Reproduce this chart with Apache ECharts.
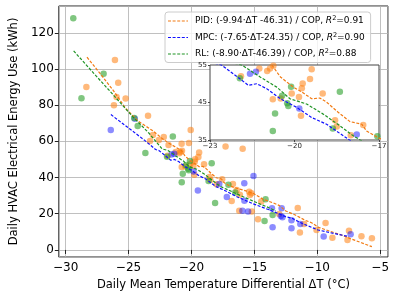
<!DOCTYPE html>
<html><head><meta charset="utf-8">
<script src="https://cdn.jsdelivr.net/npm/echarts@6/dist/echarts.min.js"></script>
<style>html,body{margin:0;padding:0;background:#fff}#c{width:397px;height:297px}</style>
</head><body><div id="c"></div>
<script>
// Scatter observations [ΔT, kWh]
const pidPoints = [[-28.35,90.1],[-26.08,105.0],[-25.82,92.4],[-25.95,84.5],[-25.23,83.7],[-26.16,80.0],[-23.45,74.1],[-23.06,63.5],[-23.29,60.2],[-22.2,62.4],[-22.59,60.8],[-21.82,58.0],[-20.78,58.7],[-20.2,59.1],[-20.06,66.3],[-21.9,52.0],[-21.25,54.1],[-20.97,53.4],[-20.87,54.1],[-20.75,54.8],[-19.39,53.9],[-19.45,51.3],[-19.71,50.1],[-19.74,48.8],[-20.1,47.4],[-19.84,46.5],[-20.77,45.9],[-20.49,46.1],[-19.77,41.5],[-19.0,47.4],[-18.56,40.3],[-18.5,38.6],[-18.0,36.3],[-17.56,39.0],[-17.29,57.1],[-15.93,55.9],[-16.7,36.4],[-16.4,33.1],[-16.15,30.5],[-15.41,32.2],[-15.23,31.3],[-15.35,30.4],[-16.8,27.0],[-14.45,26.7],[-16.2,21.6],[-15.2,21.2],[-14.71,17.0],[-13.03,19.9],[-11.55,23.2],[-11.05,14.4],[-11.38,9.7],[-10.06,11.0],[-9.34,14.9],[-8.8,6.8],[-7.48,10.6],[-7.6,5.5],[-6.49,7.5],[-5.66,6.5]];
const mpcPoints = [[-26.41,66.3],[-24.5,72.5],[-21.58,52.7],[-21.37,53.2],[-19.83,43.4],[-19.49,32.8],[-17.79,36.5],[-15.07,40.9],[-15.8,36.8],[-17.19,29.2],[-15.79,27.2],[-15.95,21.6],[-15.5,21.3],[-13.6,23.0],[-12.83,23.0],[-12.9,18.8],[-12.77,18.1],[-13.55,12.5],[-12.05,12.0],[-12.05,16.4],[-11.35,14.4],[-9.49,7.4],[-7.35,8.7]];
const rlPoints = [[-29.39,128.0],[-26.98,97.4],[-28.74,83.8],[-24.55,72.9],[-24.27,68.5],[-21.48,62.7],[-23.66,53.6],[-21.94,51.5],[-20.12,49.2],[-20.44,46.8],[-20.26,44.8],[-20.22,44.1],[-20.69,42.1],[-20.77,37.4],[-18.39,47.9],[-18.64,38.1],[-17.06,36.0],[-18.12,26.0],[-16.52,31.7],[-14.11,28.0],[-14.19,16.0],[-13.55,19.3]];
// Fitted model curves
const pidLine = [[-28.3,106.5],[-27.2,97],[-26.2,88],[-25.2,78],[-24.2,71],[-23.1,66],[-22.3,61.5],[-21.8,59],[-21.3,57],[-20.8,55],[-20.5,51.8],[-20.04,49.1],[-19.74,47.8],[-19.39,46],[-19.1,46.2],[-18.86,45.1],[-18.45,42.4],[-18.03,39.9],[-17.61,39.2],[-17.44,37.4],[-17.0,35.5],[-16.6,34.5],[-15.6,32.5],[-15.1,31.3],[-14.3,28],[-13.5,26],[-13.0,24.5],[-12.5,21.5],[-11.74,19.3],[-11.0,16.5],[-10.45,15],[-9.9,12.5],[-8.9,10.1],[-8.1,8.3],[-7.35,6.2],[-6.5,4],[-5.66,1.8]];
const mpcLine = [[-26.4,74.8],[-25,67.4],[-23.76,60.8],[-22.85,55.5],[-22.59,55],[-21.64,49.6],[-21.34,50],[-20.99,48.7],[-20.5,46],[-19.92,43.7],[-19.39,41],[-18.86,39.2],[-18.03,34.9],[-17.42,33.1],[-16.39,29.4],[-15.1,25.5],[-13.8,22.1],[-12.52,18.4],[-12,17.5],[-11.22,14.7],[-9.93,11],[-8.6,9],[-7.5,7.4]];
const rlLine = [[-29.36,110],[-27.76,97.6],[-26.2,85.6],[-24.66,73.6],[-23.37,64.5],[-22.33,55.8],[-21.87,55],[-21.22,51.8],[-20.63,49.1],[-20.16,46],[-19.57,44.6],[-18.98,41.9],[-18.39,38.8],[-17.91,36.1],[-17.67,35.0],[-16.4,31],[-15.1,27],[-13.8,23.2],[-13.3,21.5]];
const seriesNames = ['PID','MPC','RL'];
const legendFormulas = {PID:'PID: (-9.94·ΔT -46.31) / COP, ', MPC:'MPC: (-7.65·ΔT-24.35) / COP, ', RL:'RL: (-8.90·ΔT-46.39) / COP, '};
const legendR2 = {PID:'0.91', MPC:'0.90', RL:'0.88'};
const xAxisTitle = 'Daily Mean Temperature Differential ΔT (°C)';
const yAxisTitle = 'Daily HVAC Electrical Energy Use (kWh)';

const F = 'DejaVu Sans';
const pointColors = {PID:'#ff7f0e', MPC:'#0000ff', RL:'#2ca02c'};
const pointOpacity = {PID:0.55, MPC:0.45, RL:0.6};
const lineColors = {PID:'#f27a12', MPC:'#1010ff', RL:'#1f9424'};
const pts = {PID:pidPoints, MPC:mpcPoints, RL:rlPoints};
const lines = {PID:pidLine, MPC:mpcLine, RL:rlLine};
const minus = v => String(v).replace('-', '\u2212');
const dashIcon = 'path://M0,0h3v1.2h-3z M4.6,0h3v1.2h-3z M9.2,0h3v1.2h-3z M13.8,0h3v1.2h-3z M18.4,0h1.6v1.2h-1.6z';

const series = [];
[0,1].forEach(g => {
  seriesNames.forEach(n => {
    series.push({type:'scatter', name: n + (g ? '-inset-pts' : '-pts'), xAxisIndex:g, yAxisIndex:g,
      data: pts[n], symbolSize: 6.5, z: g ? 12 : 2, clip: true,
      itemStyle:{color: pointColors[n], opacity: pointOpacity[n], borderWidth:0}});
  });
  seriesNames.forEach(n => {
    series.push({type:'line', name: g ? n + '-inset' : n, xAxisIndex:g, yAxisIndex:g,
      data: lines[n], symbol:'none', z: g ? 13 : 3, clip: true,
      lineStyle:{color: lineColors[n], width:1.2, type:[3,1.6]}, itemStyle:{color: lineColors[n]}});
  });
});

const chart = echarts.init(document.getElementById('c'), null, {renderer:'canvas'});
chart.setOption({
  animation:false,
  backgroundColor:'#fff',
  textStyle:{fontFamily:F},
  grid:[
    {left:51, top:6, right:9, bottom:40, show:true, borderColor:'#222', borderWidth:1, backgroundColor:'#fff', z:0},
    {left:210, top:65, width:169, height:75, show:true, borderColor:'#444', borderWidth:1, backgroundColor:'#fff', z:10}
  ],
  xAxis:[
    {type:'value', gridIndex:0, min:-30.54, max:-4.38, splitNumber:5,
     name:xAxisTitle, nameLocation:'middle', nameGap:20, nameTextStyle:{fontSize:11.5, color:'#000', fontFamily:F},
     axisLine:{show:false}, axisTick:{show:true, length:4, lineStyle:{color:'#222'}},
     axisLabel:{fontSize:12, color:'#000', fontFamily:F, margin:5, showMinLabel:false, showMaxLabel:false, formatter:minus},
     splitLine:{show:true, lineStyle:{color:'#b0b0b0', width:0.8}}},
    {type:'value', gridIndex:1, min:-23, max:-17, interval:3, z:11,
     axisLine:{show:false}, axisTick:{show:true, length:2, lineStyle:{color:'#444'}},
     axisLabel:{fontSize:7, color:'#222', fontFamily:F, margin:3, formatter:minus},
     splitLine:{show:false}}
  ],
  yAxis:[
    {type:'value', gridIndex:0, min:-3.9, max:134.8, splitNumber:7,
     name:yAxisTitle, nameLocation:'middle', nameGap:37, nameTextStyle:{fontSize:11.5, color:'#000', fontFamily:F},
     axisLine:{show:false}, axisTick:{show:true, length:4, lineStyle:{color:'#222'}},
     axisLabel:{fontSize:12, color:'#000', fontFamily:F, margin:5, showMinLabel:false, showMaxLabel:false, formatter:minus},
     splitLine:{show:true, lineStyle:{color:'#b0b0b0', width:0.8}}},
    {type:'value', gridIndex:1, min:35, max:55, interval:10, z:11,
     axisLine:{show:false}, axisTick:{show:true, length:2, lineStyle:{color:'#444'}},
     axisLabel:{fontSize:7, color:'#222', fontFamily:F, margin:3},
     splitLine:{show:false}}
  ],
  legend:{
    show:true, orient:'vertical', left:165, top:12, data:seriesNames,
    icon: dashIcon, itemWidth:20, itemHeight:1.3, itemGap:5, padding:[3,6,3,3],
    backgroundColor:'rgba(255,255,255,0.8)', borderColor:'#cccccc', borderWidth:1, borderRadius:3,
    formatter: n => legendFormulas[n] + '{i|R}{s|2}=' + legendR2[n],
    textStyle:{fontSize:9, color:'#000', fontFamily:F, padding:[0,0,0,2], lineHeight:11,
      rich:{i:{fontSize:9, fontStyle:'italic', fontFamily:F, color:'#000'},
            s:{fontSize:6.5, fontFamily:F, color:'#000', padding:[0,0,5,0]}}}
  },
  series: series
});
</script></body></html>
